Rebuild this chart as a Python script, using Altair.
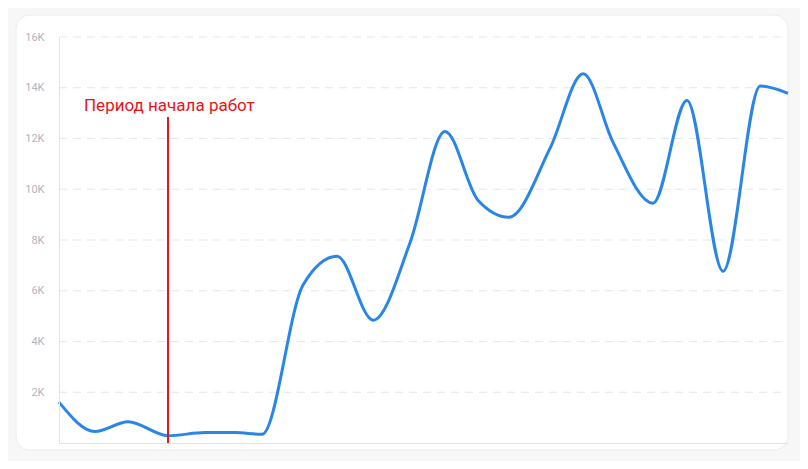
import altair as alt
import pandas as pd

# Positions along the time axis (period index)
periods = [0, 1.04, 1.99, 3.14, 4.21, 5.07, 5.85, 7.03, 8.01, 9.05, 10.11,
           11.12, 12.07, 12.96, 14.15, 15.10, 15.96, 17.11, 18.09, 19.13, 20.20, 21.0]
# Traffic values
visits = [1610, 450, 840, 290, 410, 410, 340, 6230, 7360, 4840, 7880,
          12280, 9570, 8900, 11630, 14550, 11850, 9450, 13500, 6770, 14070, 13780]
# Y-axis ticks
y_ticks = [2000, 4000, 6000, 8000, 10000, 12000, 14000, 16000]

# Annotation
start_label = "Период начала работ"
start_period = 3.14
start_rule_top = 12850
label_period = 0.72
label_value = 13080

df = pd.DataFrame({"period": periods, "visits": visits})
grid_df = pd.DataFrame({"v": y_ticks})
rule_df = pd.DataFrame({"period": [start_period], "top": [start_rule_top], "bottom": [0]})
text_df = pd.DataFrame({"period": [label_period], "v": [label_value], "t": [start_label]})

xs = alt.Scale(domain=[0, 21], nice=False, zero=False)
ys = alt.Scale(domain=[0, 16000], nice=False)

card = alt.Chart(pd.DataFrame({"a": [0]})).mark_rect(
    color="white", cornerRadius=14, stroke="#ececef", strokeWidth=1
).encode(
    x=alt.value(-43), x2=alt.value(729), y=alt.value(-22), y2=alt.value(413)
)

grid = alt.Chart(grid_df).mark_rule(
    color="#e6e6ef", strokeWidth=1, strokeDash=[8, 6]
).encode(
    y=alt.Y("v:Q", scale=ys),
    x=alt.value(0), x2=alt.value(729),
)

line = alt.Chart(df).mark_line(
    color="#2a86e6", strokeWidth=3, interpolate="monotone"
).encode(
    x=alt.X("period:Q", scale=xs,
            axis=alt.Axis(labels=False, ticks=False, grid=False, title=None,
                          domainColor="#e2e2e8", zindex=1)),
    y=alt.Y("visits:Q", scale=ys,
            axis=alt.Axis(values=y_ticks, grid=False, ticks=False, title=None,
                          labelExpr="datum.value / 1000 + 'K'",
                          labelColor="#b3b4bd", labelFontSize=11, labelFont="Roboto",
                          labelPadding=15, domainColor="#e2e2e8", zindex=1)),
)

rule = alt.Chart(rule_df).mark_rule(color="#e8141c", strokeWidth=2).encode(
    x=alt.X("period:Q", scale=xs),
    y=alt.Y("top:Q", scale=ys),
    y2="bottom:Q",
)

text = alt.Chart(text_df).mark_text(
    color="#e8141c", font="Roboto", fontSize=17, align="left", baseline="alphabetic"
).encode(
    x=alt.X("period:Q", scale=xs),
    y=alt.Y("v:Q", scale=ys),
    text="t:N",
)

chart = alt.layer(card, grid, line, rule, text).properties(
    width=729, height=406,
    padding={"left": 51, "top": 29, "right": 12, "bottom": 18},
    autosize=alt.AutoSizeParams(type="none"),
    background="#f7f7f8",
).configure_view(stroke=None)

chart.save("out.html", embed_options={"renderer": "svg", "actions": False})
